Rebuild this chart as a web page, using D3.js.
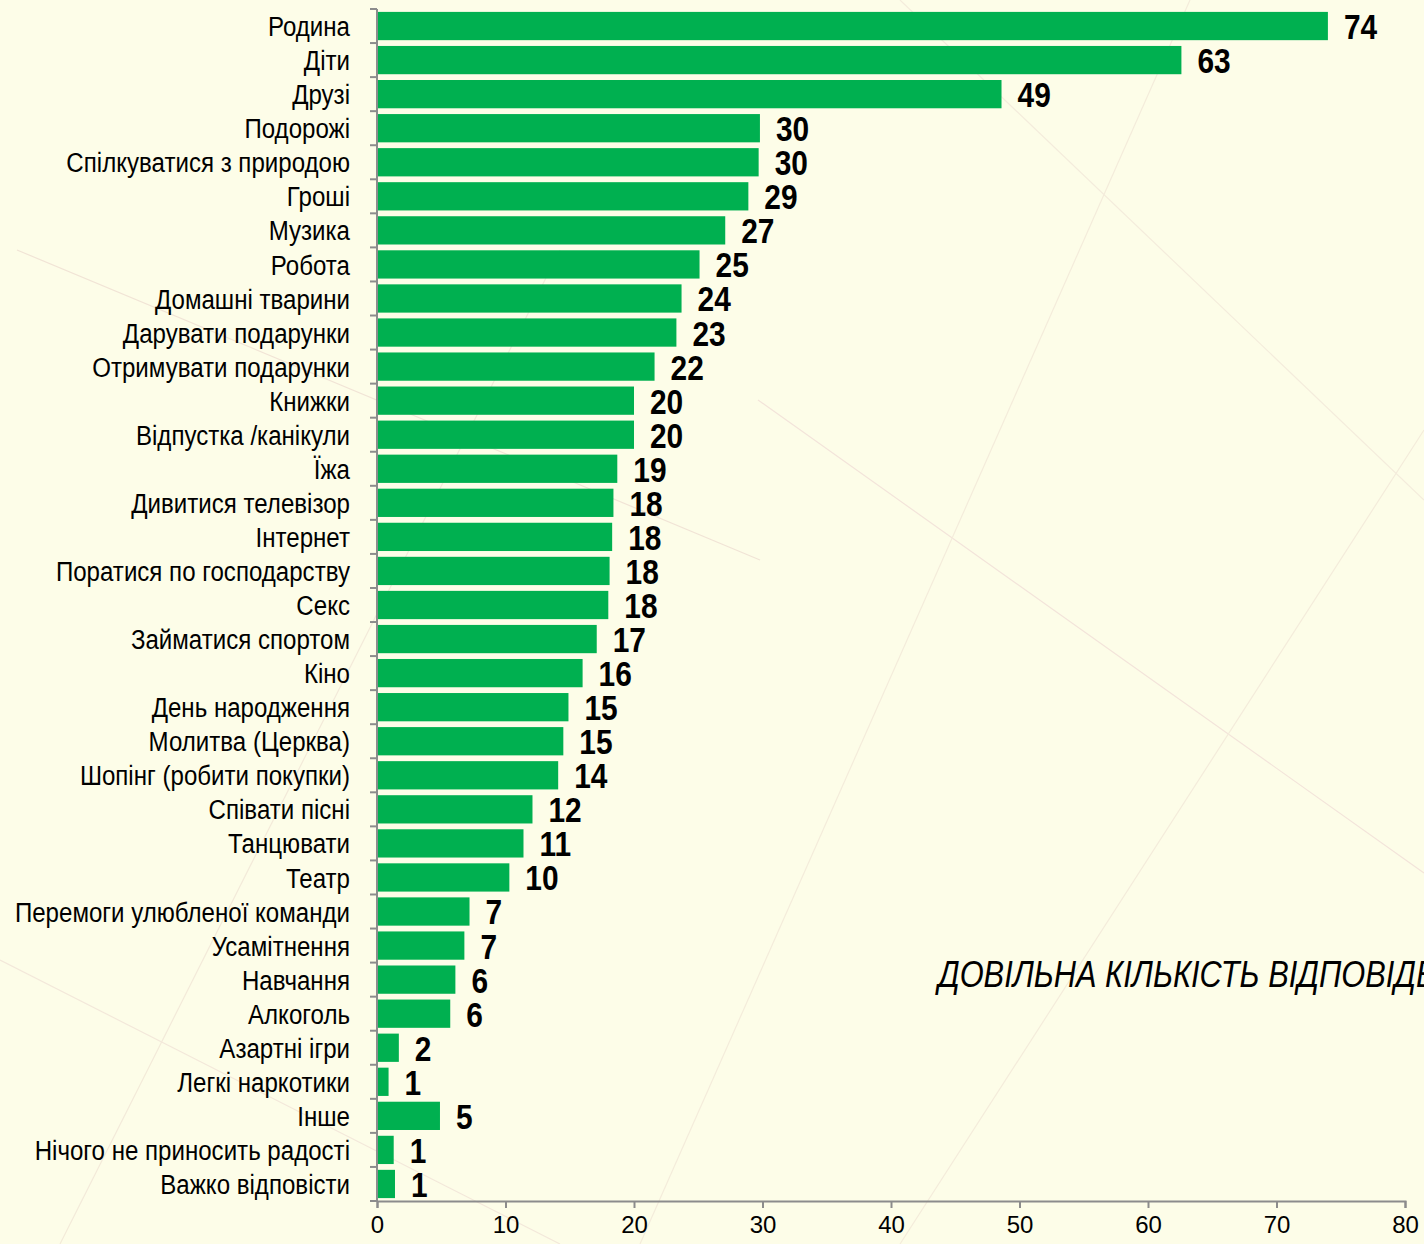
<!DOCTYPE html>
<html>
<head>
<meta charset="utf-8">
<script src="https://cdn.jsdelivr.net/npm/d3@7"></script>
<style>
  html, body { margin: 0; padding: 0; background: #fdfde8; }
  svg { display: block; }
  text { font-family: 'Liberation Sans', Arial, sans-serif; }
</style>
</head>
<body>
<svg id="chart"></svg>
<script>
// categories, top to bottom
const categories = [
  "Родина", "Діти", "Друзі", "Подорожі", "Спілкуватися з природою", "Гроші",
  "Музика", "Робота", "Домашні тварини", "Дарувати подарунки", "Отримувати подарунки",
  "Книжки", "Відпустка /канікули", "Їжа", "Дивитися телевізор", "Інтернет",
  "Поратися по господарству", "Секс", "Займатися спортом", "Кіно", "День народження",
  "Молитва (Церква)", "Шопінг (робити покупки)", "Співати пісні", "Танцювати", "Театр",
  "Перемоги улюбленої команди", "Усамітнення", "Навчання", "Алкоголь", "Азартні ігри",
  "Легкі наркотики", "Інше", "Нічого не приносить радості", "Важко відповісти"
];
// bar lengths (unrounded)
const values = [
  74.0, 62.6, 48.6, 29.8, 29.7, 28.9,
  27.1, 25.1, 23.7, 23.3, 21.6,
  20.0, 20.0, 18.7, 18.4, 18.3,
  18.1, 18.0, 17.1, 16.0, 14.9,
  14.5, 14.1, 12.1, 11.4, 10.3,
  7.2, 6.8, 6.1, 5.7, 1.7,
  0.9, 4.9, 1.3, 1.4
];
// printed value labels
const valueLabels = [
  74, 63, 49, 30, 30, 29,
  27, 25, 24, 23, 22,
  20, 20, 19, 18, 18,
  18, 18, 17, 16, 15,
  15, 14, 12, 11, 10,
  7, 7, 6, 6, 2,
  1, 5, 1, 1
];
const xTicks = [0, 10, 20, 30, 40, 50, 60, 70, 80];
const note = "ДОВІЛЬНА КІЛЬКІСТЬ ВІДПОВІДЕЙ";

const width = 1424, height = 1244;
const margin = {top: 9, left: 377, right: 19, bottom: 43};
// no narrow font installed, so squeeze text horizontally
const narrow = 0.86, narrowBold = 0.83;

const svg = d3.select('#chart')
    .attr('width', width)
    .attr('height', height);

svg.append('rect')
    .attr('width', width)
    .attr('height', height)
    .attr('fill', '#fdfde8');

// faint diagonal background strokes
const deco = svg.append('g')
    .attr('stroke-width', 1.2)
    .attr('fill', 'none');
[[17, 250, 760, 560, '#f1e4d6'], [560, 250, 60, 1244, '#f3ead9'],
 [758, 400, 1424, 873, '#f3e4da'], [1190, 0, 640, 1244, '#f4ecdb'],
 [1424, 430, 900, 1244, '#f4ecdb'], [0, 960, 560, 1244, '#f3e8da'],
 [900, 0, 1424, 500, '#f4ecdc']]
  .forEach(d => deco.append('line')
      .attr('x1', d[0]).attr('y1', d[1])
      .attr('x2', d[2]).attr('y2', d[3])
      .attr('stroke', d[4]));

const x = d3.scaleLinear()
    .domain([0, 80])
    .range([margin.left, width - margin.right]);

const y = d3.scaleBand()
    .domain(categories)
    .range([margin.top, height - margin.bottom])
    .paddingInner(0.17)
    .paddingOuter(0.085);

const rows = categories.map((c, i) => ({name: c, value: values[i], label: valueLabels[i]}));

// bars
svg.append('g')
    .selectAll('rect')
    .data(rows)
    .join('rect')
    .attr('x', x(0) + 1)
    .attr('y', d => y(d.name))
    .attr('width', d => x(d.value) - x(0) - 1)
    .attr('height', y.bandwidth())
    .attr('fill', '#00b050');

// value labels
svg.append('g')
    .selectAll('text')
    .data(rows)
    .join('text')
    .attr('transform', d => 'translate(' + (x(d.value) + 16) + ',' + (y(d.name) + y.bandwidth() / 2) + ') scale(' + narrowBold + ',1)')
    .attr('dy', '0.36em')
    .attr('font-size', 36)
    .attr('font-weight', 'bold')
    .attr('fill', '#000')
    .text(d => d.label);

// y axis with ticks between categories
const yAxis = svg.append('g');
yAxis.append('line')
    .attr('x1', x(0)).attr('x2', x(0))
    .attr('y1', margin.top).attr('y2', height - margin.bottom)
    .attr('stroke', '#8c8c8c').attr('stroke-width', 2);
const step = y.step();
const bounds = d3.range(categories.length + 1).map(i => margin.top + i * step);
yAxis.selectAll('.tk')
    .data(bounds)
    .join('line')
    .attr('class', 'tk')
    .attr('x1', x(0) - 7).attr('x2', x(0))
    .attr('y1', d => d).attr('y2', d => d)
    .attr('stroke', '#8c8c8c').attr('stroke-width', 2);
yAxis.selectAll('.lbl')
    .data(categories)
    .join('text')
    .attr('class', 'lbl')
    .attr('transform', d => 'translate(350,' + (y(d) + y.bandwidth() / 2) + ') scale(' + narrow + ',1)')
    .attr('dy', '0.36em')
    .attr('text-anchor', 'end')
    .attr('font-size', 28)
    .attr('fill', '#000')
    .text(d => d);

// x axis
const xAxis = svg.append('g')
    .attr('transform', 'translate(0,' + (height - margin.bottom) + ')')
    .call(d3.axisBottom(x).tickValues(xTicks).tickSize(7).tickPadding(8).tickFormat(d3.format('d')));
xAxis.select('.domain').attr('stroke', '#8c8c8c').attr('stroke-width', 2);
xAxis.selectAll('.tick line').attr('stroke', '#8c8c8c').attr('stroke-width', 2);
xAxis.selectAll('.tick text')
    .attr('font-size', 24)
    .attr('font-family', "'Liberation Sans', Arial, sans-serif")
    .attr('fill', '#000');

// note, runs off the right edge as in the original
svg.append('text')
    .attr('transform', 'translate(938,987) scale(0.855,1)')
    .attr('font-size', 36)
    .attr('font-style', 'italic')
    .attr('fill', '#000')
    .text(note);
</script>
</body>
</html>
